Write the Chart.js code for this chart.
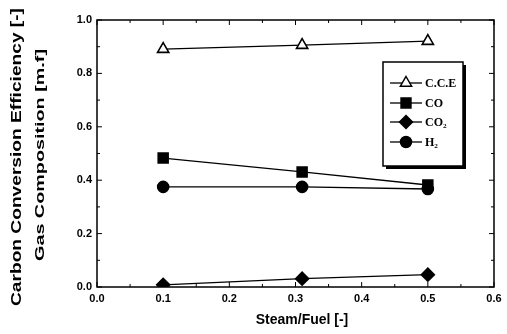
<!DOCTYPE html>
<html>
<head>
<meta charset="utf-8">
<script src="https://cdn.jsdelivr.net/npm/chart.js@4"></script>
<style>
  html, body { margin: 0; padding: 0; background: #fff; }
  #wrap { width: 507px; height: 334px; }
</style>
</head>
<body>
<div id="wrap"><canvas id="chart" width="507" height="334"></canvas></div>
<script>
// steam/fuel ratios
const steamFuel = [0.1, 0.31, 0.5];

const seriesNames = ['C.C.E', 'CO', 'CO\u2082', 'H\u2082'];
const cceValues = [0.891, 0.906, 0.921];
const coValues = [0.483, 0.431, 0.382];
const co2Values = [0.008, 0.031, 0.046];
const h2Values = [0.375, 0.375, 0.367];

const xTicks = [0, 0.1, 0.2, 0.3, 0.4, 0.5, 0.6];
const yTicks = [0, 0.2, 0.4, 0.6, 0.8, 1.0];

const pointStyles = ['triangle', 'rect', 'rectRot', 'circle'];
const pointFills = ['#ffffff', '#000000', '#000000', '#000000'];
const pointSizes = [6.5, 7, 6.5, 5.5];

const tickFont = { family: 'Liberation Sans, Arial, sans-serif', size: 11, weight: 'bold' };

function toPoints(values) {
    return steamFuel.map((x, i) => ({ x: x, y: values[i] }));
}

const allValues = [cceValues, coValues, co2Values, h2Values];
const datasets = allValues.map((vals, i) => ({
    label: seriesNames[i],
    data: toPoints(vals),
    borderColor: '#000',
    borderWidth: 1.3,
    pointStyle: pointStyles[i],
    pointRadius: pointSizes[i],
    pointHoverRadius: pointSizes[i],
    pointBackgroundColor: pointFills[i],
    pointBorderColor: '#000',
    pointBorderWidth: 1.6,
    fill: false,
    tension: 0
}));

// draw a marker by hand for the legend
function drawMarker(ctx, style, x, y, r, fill) {
    ctx.save();
    ctx.fillStyle = fill;
    ctx.strokeStyle = '#000';
    ctx.lineWidth = 1.5;
    ctx.beginPath();
    if (style === 'triangle') {
        ctx.moveTo(x, y - r);
        ctx.lineTo(x + r * 0.866, y + r * 0.5);
        ctx.lineTo(x - r * 0.866, y + r * 0.5);
        ctx.closePath();
    } else if (style === 'rect') {
        const h = r * 0.707;
        ctx.rect(x - h, y - h, 2 * h, 2 * h);
    } else if (style === 'rectRot') {
        ctx.moveTo(x, y - r);
        ctx.lineTo(x + r, y);
        ctx.lineTo(x, y + r);
        ctx.lineTo(x - r, y);
        ctx.closePath();
    } else {
        ctx.arc(x, y, r, 0, Math.PI * 2);
    }
    ctx.fill();
    ctx.stroke();
    ctx.restore();
}

const framePlugin = {
    id: 'framePlugin',
    beforeDatasetsDraw(chart) {
        const ctx = chart.ctx;
        const a = chart.chartArea;
        const xs = chart.scales.x;
        const ys = chart.scales.y;
        ctx.save();
        ctx.strokeStyle = '#000';
        ctx.lineWidth = 1.5;
        ctx.strokeRect(a.left, a.top, a.right - a.left, a.bottom - a.top);

        // inward ticks on all four sides
        ctx.lineWidth = 1;
        ctx.beginPath();
        for (let i = 0; i <= 12; i++) {
            const v = i * 0.05;
            const px = xs.getPixelForValue(v);
            const len = i % 2 === 0 ? 5 : 3;
            ctx.moveTo(px, a.bottom); ctx.lineTo(px, a.bottom - len);
            ctx.moveTo(px, a.top); ctx.lineTo(px, a.top + len);
        }
        for (let i = 0; i <= 10; i++) {
            const v = i * 0.1;
            const py = ys.getPixelForValue(v);
            const len = i % 2 === 0 ? 5 : 3;
            ctx.moveTo(a.left, py); ctx.lineTo(a.left + len, py);
            ctx.moveTo(a.right, py); ctx.lineTo(a.right - len, py);
        }
        ctx.stroke();
        ctx.restore();
    },
    afterDraw(chart) {
        const ctx = chart.ctx;
        ctx.save();
        ctx.fillStyle = '#000';
        ctx.textAlign = 'center';
        ctx.textBaseline = 'middle';

        // x title
        ctx.font = 'bold 14px "Liberation Sans", Arial, sans-serif';
        ctx.fillText('Steam/Fuel [-]', 302, 320);

        // y titles, stretched along their length like the scan
        const drawVertical = (text, x, y, font, length) => {
            ctx.save();
            ctx.font = font;
            const w = ctx.measureText(text).width;
            ctx.translate(x, y);
            ctx.rotate(-Math.PI / 2);
            ctx.scale(length / w, 1);
            ctx.fillText(text, 0, 0);
            ctx.restore();
        };
        drawVertical('Carbon Conversion Efficiency [-]', 17, 157,
            'bold 15px "Liberation Sans", Arial, sans-serif', 298);
        drawVertical('Gas Composition [m.f]', 41, 155,
            'bold 12px "Liberation Sans", Arial, sans-serif', 212);

        // legend box with shadow
        const bx = 383, by = 62, bw = 80, bh = 104;
        ctx.fillStyle = '#000';
        ctx.fillRect(bx + 3, by + 3, bw, bh);
        ctx.fillStyle = '#fff';
        ctx.fillRect(bx, by, bw, bh);
        ctx.strokeStyle = '#000';
        ctx.lineWidth = 1.5;
        ctx.strokeRect(bx, by, bw, bh);

        const rowY = [83, 103, 122, 142];
        ctx.textAlign = 'left';
        ctx.font = 'bold 12px "Liberation Serif", "Times New Roman", serif';
        chart.data.datasets.forEach((ds, i) => {
            const y = rowY[i];
            ctx.strokeStyle = '#000';
            ctx.lineWidth = 1.3;
            ctx.beginPath();
            ctx.moveTo(390, y); ctx.lineTo(422, y);
            ctx.stroke();
            drawMarker(ctx, ds.pointStyle, 406, y, ds.pointRadius, ds.pointBackgroundColor);
            ctx.fillStyle = '#000';
            ctx.fillText(ds.label, 425, y + 1);
        });
        ctx.restore();
    }
};

new Chart('chart', {
    type: 'line',
    data: { datasets: datasets },
    options: {
        responsive: false,
        animation: false,
        layout: { padding: { left: 0, top: 20, right: 13, bottom: 0 } },
        plugins: {
            legend: { display: false },
            tooltip: { enabled: false }
        },
        scales: {
            x: {
                type: 'linear',
                min: 0,
                max: 0.6,
                afterFit: (s) => { s.height = 47; },
                afterBuildTicks: (s) => { s.ticks = xTicks.map(v => ({ value: v })); },
                grid: { display: false, drawTicks: false },
                border: { display: false },
                ticks: {
                    color: '#000',
                    font: tickFont,
                    padding: 5,
                    maxRotation: 0,
                    callback: (v) => v.toFixed(1)
                }
            },
            y: {
                type: 'linear',
                min: 0,
                max: 1,
                afterFit: (s) => { s.width = 97; },
                afterBuildTicks: (s) => { s.ticks = yTicks.map(v => ({ value: v })); },
                grid: { display: false, drawTicks: false },
                border: { display: false },
                ticks: {
                    color: '#000',
                    font: tickFont,
                    padding: 5,
                    callback: (v) => v.toFixed(1)
                }
            }
        }
    },
    plugins: [framePlugin]
});
</script>
</body>
</html>
